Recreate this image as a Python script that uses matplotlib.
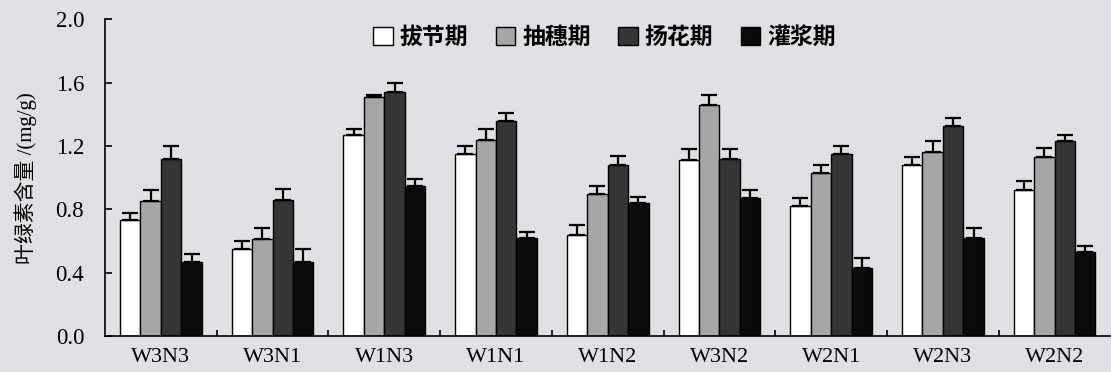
import numpy as np
import matplotlib
matplotlib.use('Agg')
import matplotlib.pyplot as plt
from matplotlib.patches import Patch

# --- Data ---
groups = ['W3N3', 'W3N1', 'W1N3', 'W1N1', 'W1N2', 'W3N2', 'W2N1', 'W2N3', 'W2N2']
stages = ['拔节期', '抽穗期', '扬花期', '灌浆期']

jointing = [0.73, 0.55, 1.27, 1.15, 0.64, 1.11, 0.82, 1.08, 0.92]
heading = [0.85, 0.61, 1.51, 1.24, 0.90, 1.46, 1.03, 1.16, 1.13]
flowering = [1.12, 0.86, 1.54, 1.36, 1.08, 1.12, 1.15, 1.33, 1.23]
filling = [0.47, 0.47, 0.95, 0.62, 0.84, 0.87, 0.43, 0.62, 0.53]

jointing_err = [0.05, 0.05, 0.04, 0.05, 0.06, 0.07, 0.05, 0.05, 0.06]
heading_err = [0.07, 0.07, 0.01, 0.07, 0.05, 0.06, 0.05, 0.07, 0.06]
flowering_err = [0.08, 0.07, 0.06, 0.05, 0.06, 0.06, 0.05, 0.05, 0.04]
filling_err = [0.05, 0.08, 0.04, 0.04, 0.04, 0.05, 0.06, 0.06, 0.04]

yticks = [0.0, 0.4, 0.8, 1.2, 1.6, 2.0]

# --- Style ---
BG = '#dfe0e3'
COLORS = ['#ffffff', '#a6a6a6', '#353535', '#0b0b0b']
BAR_W = 0.183

plt.rcParams['font.family'] = ['Liberation Serif', 'Noto Sans CJK SC']
plt.rcParams['axes.linewidth'] = 1.2

fig = plt.figure(figsize=(11.11, 3.72), dpi=100, facecolor=BG)
ax = fig.add_axes([0.0945, 0.0968, 0.905, 0.8508], facecolor=BG)

x = np.arange(len(groups))
series = [jointing, heading, flowering, filling]
errs = [jointing_err, heading_err, flowering_err, filling_err]

for i, (vals, err) in enumerate(zip(series, errs)):
    pos = x + (i - 1.5) * BAR_W
    ax.bar(pos, vals, width=BAR_W, color=COLORS[i], edgecolor='black',
           linewidth=1.0, zorder=2)
    ax.errorbar(pos, vals, yerr=[np.zeros(len(err)), err], fmt='none',
                ecolor='black', elinewidth=1.6, capsize=6, capthick=1.6, zorder=3)

ax.set_xlim(-0.5, 8.5)
ax.set_ylim(0, 2.0)
ax.set_yticks(yticks)
ax.set_yticklabels([f'{v:.1f}' for v in yticks])
ax.set_xticks(x)
ax.set_xticklabels(groups)
ax.set_xticks(x[:-1] + 0.5, minor=True)

ax.tick_params(axis='x', which='major', length=0, pad=9, labelsize=16)
ax.tick_params(axis='x', which='minor', direction='in', length=4, width=1.2)
ax.tick_params(axis='y', direction='in', length=5, width=1.2, pad=15, labelsize=16.5)

ax.spines['top'].set_visible(False)
ax.spines['right'].set_visible(False)

ax.set_ylabel('叶绿素含量 /(mg/g)', fontsize=15, labelpad=13)

handles = [Patch(facecolor=c, edgecolor='black', linewidth=1.0) for c in COLORS]
ax.legend(handles, stages, loc='center', bbox_to_anchor=(0.497, 0.943), ncol=4,
          frameon=False, handlelength=0.85, handleheight=0.85, handletextpad=0.3,
          columnspacing=1.2, prop={'family': ['Noto Sans CJK SC'], 'size': 16.5,
                                   'weight': 'bold'})

fig.savefig('out.png', dpi=100, facecolor=BG)
